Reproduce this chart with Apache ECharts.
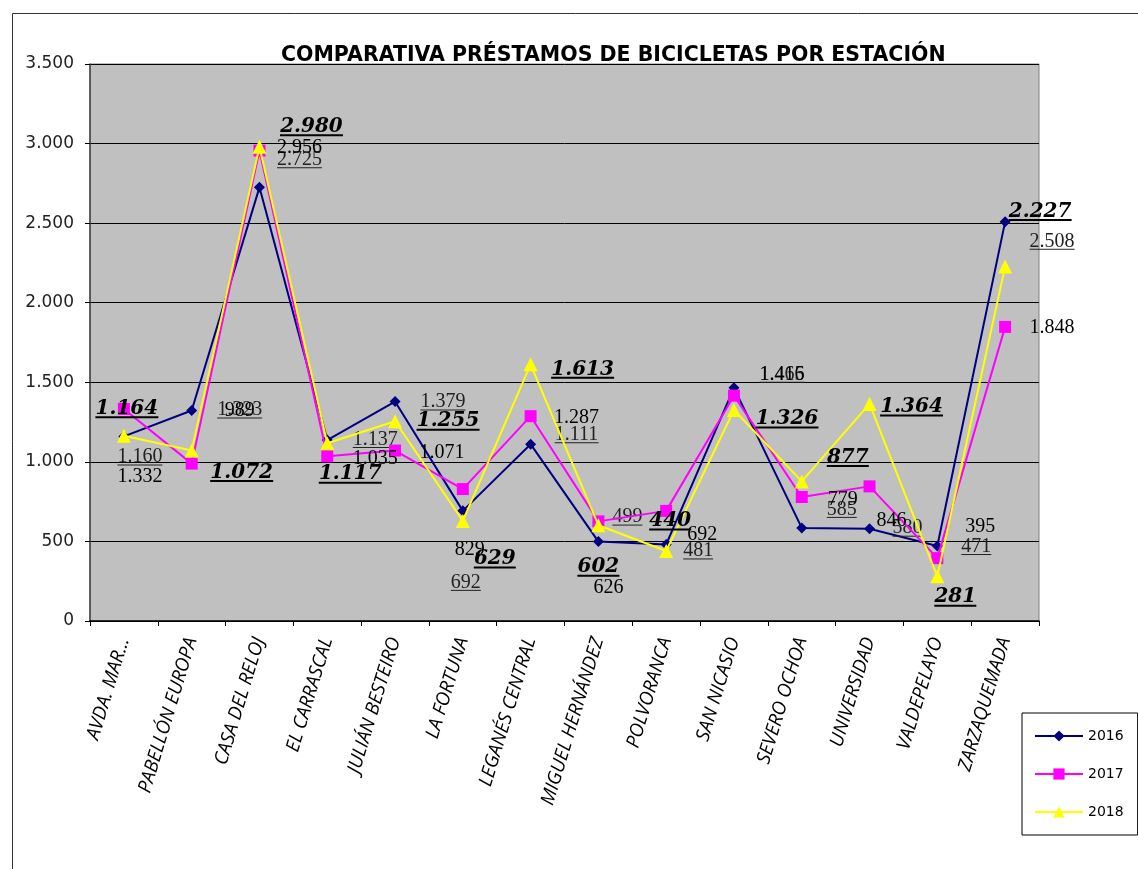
<!DOCTYPE html>
<html>
<head>
<meta charset="utf-8">
<script src="https://cdn.jsdelivr.net/npm/echarts@6/dist/echarts.min.js"></script>
<style>html,body{margin:0;padding:0;background:#fff}#c{width:1138px;height:869px}</style>
</head>
<body>
<div id="c"></div>
<script>
const categories = ['AVDA. MAR...','PABELLÓN EUROPA','CASA DEL RELOJ','EL CARRASCAL','JULIÁN BESTEIRO','LA FORTUNA','LEGANÉS CENTRAL','MIGUEL HERNÁNDEZ','POLVORANCA','SAN NICASIO','SEVERO OCHOA','UNIVERSIDAD','VALDEPELAYO','ZARZAQUEMADA'];
const seriesNames = ['2016','2017','2018'];
const v2016 = [1160,1323,2725,1137,1379,692,1111,499,481,1465,585,580,471,2508];
const v2017 = [1332,989,2956,1035,1071,829,1287,626,692,1416,779,846,395,1848];
const v2018 = [1164,1072,2980,1117,1255,629,1613,602,440,1326,877,1364,281,2227];
const yTicks = [0,500,1000,1500,2000,2500,3000,3500];

// label placement (layout only, offsets relative to each point)
const off2016 = [[16,21],[48,0],[40,-27],[48,0],[48,1],[3,72],[46,-9],[29,-24],[32,7],[48,-13],[40,-18],[38,0],[39,1],[47,20]];
const off2017 = [[16,68],[48,-53],[40,-3],[48,2],[47,2],[7,61],[46,2],[10,66],[36,24],[48,-21],[41,3],[22,34],[43,-31],[47,1]];
const off2018 = [[3,-26],[50,23],[52,-19],[23,32],[53,1],[32,39],[52,6],[0,43],[4,-29],[53,10],[46,-23],[42,4],[18,22],[35,-54]];

function fmt(v){ return String(v).replace(/\B(?=(\d{3})+(?!\d))/g,'.'); }
const cv = document.createElement('canvas').getContext('2d');
function measure(txt, font){ cv.font = font; return Math.ceil(cv.measureText(txt).width); }

const styles = {
  '2016': {family:'Liberation Serif', size:20, weight:'normal', fstyle:'normal', color:'#222', ul:1, ulColor:'#222'},
  '2017': {family:'Liberation Serif', size:20, weight:'normal', fstyle:'normal', color:'#000', ul:0},
  '2018': {family:'DejaVu Serif', size:20, weight:'bold', fstyle:'italic', color:'#000', ul:2, ulColor:'#000'}
};

function buildData(values, name){
  const s = styles[name];
  return values.map((v,i)=>{
    const txt = fmt(v);
    const font = s.fstyle+' '+s.weight+' '+s.size+'px "'+s.family+'"';
    const w = measure(txt, font);
    const rich = {
      t:{fontFamily:s.family,fontSize:s.size,fontWeight:s.weight,fontStyle:s.fstyle,color:s.color,
         lineHeight: s.ul ? Math.round(s.size*0.75) : s.size+1}
    };
    let fm = '{t|'+txt+'}';
    if (s.ul){
      rich.u = {width:w,height:s.ul,lineHeight:s.ul,fontSize:1,backgroundColor:s.ulColor};
      fm += '\n{u| }';
    }
    return {value:v, label:{show:true, position:'inside', formatter:fm, rich:rich}};
  });
}

const chart = echarts.init(document.getElementById('c'), null, {renderer:'canvas'});
const colors = ['#000080','#FF00FF','#FFFF00'];
const symbols = ['diamond','rect','triangle'];
const symSizes = [11,12,14];
const vals = [v2016,v2017,v2018];
const offs = [off2016,off2017,off2018];

chart.setOption({
  animation:false,
  backgroundColor:'#fff',
  title:{text:'COMPARATIVA PRÉSTAMOS DE BICICLETAS POR ESTACIÓN', left:276, top:40,
    textStyle:{fontFamily:'DejaVu Sans',fontSize:20.5,fontWeight:'bold',color:'#000'}},
  graphic:[{type:'rect',left:10,top:11,shape:{width:1200,height:900},style:{fill:'none',stroke:'#333',lineWidth:1},z:-1}],
  legend:{orient:'vertical', left:1022, top:713, width:113,
    backgroundColor:'#fff', borderColor:'#000', borderWidth:1,
    padding:[16,14,16,12], itemGap:24, itemWidth:48, itemHeight:14,
    textStyle:{fontFamily:'DejaVu Sans',fontSize:14,color:'#000'},
    data:seriesNames},
  grid:{left:90,right:99,top:64,bottom:248,show:true,backgroundColor:'#C0C0C0',borderColor:'#808080',borderWidth:1},
  xAxis:{type:'category',data:categories,boundaryGap:true,
    axisLine:{lineStyle:{color:'#000',width:1.5}},
    axisTick:{show:true,alignWithLabel:false,length:5,lineStyle:{color:'#000'}},
    axisLabel:{interval:0,rotate:73,margin:17,fontFamily:'Open Sans',fontStyle:'italic',fontSize:19,color:'#000'}},
  yAxis:{type:'value',min:yTicks[0],max:yTicks[yTicks.length-1],interval:500,
    axisLine:{show:true,lineStyle:{color:'#404040',width:1.5}},
    axisTick:{show:true,length:5,lineStyle:{color:'#000'}},
    splitLine:{lineStyle:{color:'#000',width:1}},
    axisLabel:{margin:16,fontFamily:'DejaVu Sans',fontSize:17,color:'#222',formatter:v=>fmt(v)}},
  series:seriesNames.map((n,k)=>({
    name:n,type:'line',data:buildData(vals[k],n),
    symbol:symbols[k],symbolSize:symSizes[k],
    lineStyle:{color:colors[k],width:2},
    itemStyle:{color:colors[k],borderWidth:0},
    labelLayout:function(p){ const o = offs[k][p.dataIndex]; return {dx:o[0], dy:o[1], hideOverlap:false}; },
    z:2+k
  }))
});
</script>
</body>
</html>
